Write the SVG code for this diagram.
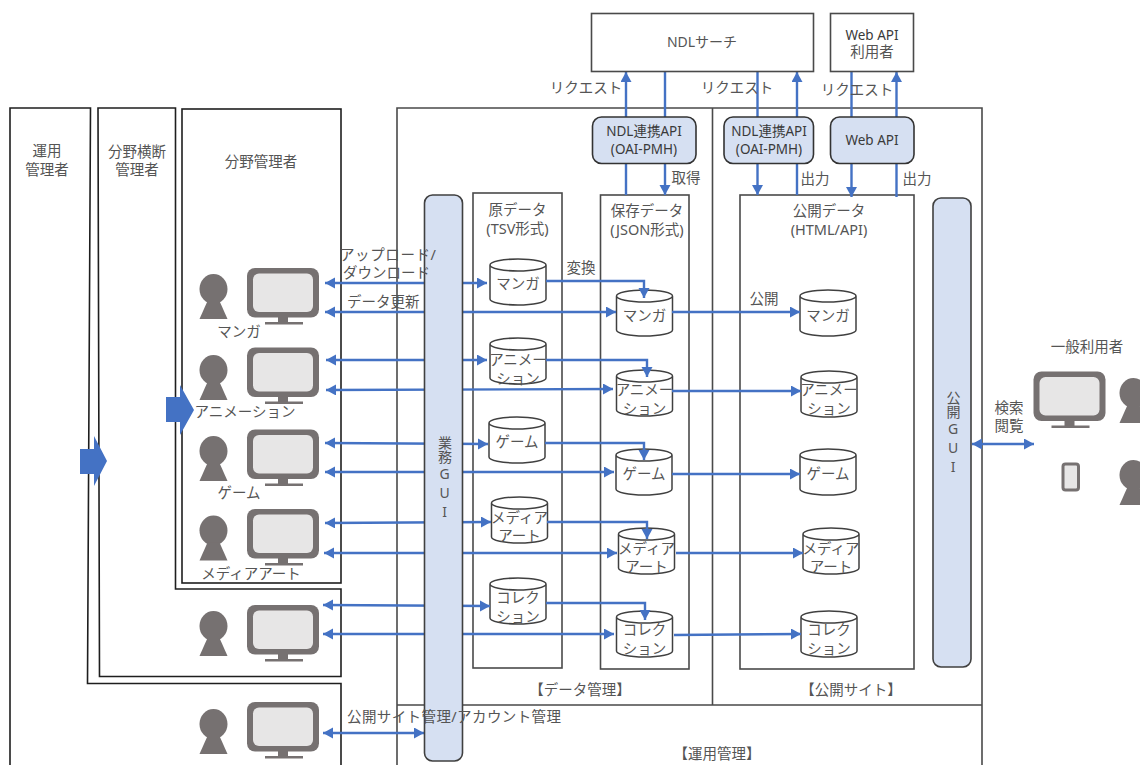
<svg xmlns="http://www.w3.org/2000/svg" width="1140" height="765" viewBox="0 0 1140 765">
<style>
text{font-family:"Noto Sans","Noto Sans CJK JP",sans-serif;font-size:14.5px;fill:#555;text-anchor:middle}
.s{text-anchor:start}
.l{font-size:13.5px;fill:#3a3a3a}
.v{writing-mode:vertical-rl;text-orientation:upright;font-size:14px}
.frame{fill:none;stroke:#1e1e1e;stroke-width:1.6}
.box{fill:none;stroke:#4a4a4a;stroke-width:1.6}
.gui{fill:#d6e0f2;stroke:#404040;stroke-width:1.6}
.api{fill:#d6e0f2;stroke:#333;stroke-width:1.6}
.cyl{fill:#fff;stroke:#404040;stroke-width:1.5}
.c line,.c path{fill:none;stroke:#4472c4;stroke-width:2.4}
.blk{fill:#4472c4;stroke:none}
</style>
<defs>
<marker id="ah" markerUnits="userSpaceOnUse" markerWidth="12" markerHeight="12" refX="10" refY="5.500" orient="auto-start-reverse"><path d="M0 0L10 5.500L0 11z" fill="#4472c4"/></marker>
<g id="person"><ellipse cx="14" cy="15" rx="14" ry="15" fill="#767171"/><path d="M8 27H20L28 45H0z" fill="#767171"/></g>
<g id="monitor"><rect width="72" height="49.500" rx="8" fill="#767171"/><rect x="6" y="5.500" width="60" height="38.500" rx="6" fill="#e7e6e6"/><rect x="31" y="49" width="10" height="6" fill="#767171"/><rect x="18" y="54" width="38" height="2.500" fill="#767171"/></g>
<path id="cy" class="cyl" d="M0 6V40A28 6 0 0 0 56 40V6A28 6 0 0 0 0 6A28 6 0 0 0 56 6"/>
</defs>
<rect width="1140" height="765" fill="#fff"/>
<g id="frames">
<path id="ops-frame" class="frame" d="M10 765V108H90.500L87.500 683.500H341V765"/>
<path id="cross-frame" class="frame" d="M98 108H175.500V589H341V676.500H99.500z"/>
<rect id="field-frame" class="frame" x="182" y="109" width="159" height="474"/>
<path id="main-frame" class="box" d="M397 765V108H982V765M397 705H982M712.500 108V705"/>
<rect id="raw-box" class="box" x="473" y="193" width="89" height="475"/>
<rect id="saved-box" class="box" x="600.500" y="195" width="88.500" height="474"/>
<rect id="public-box" class="box" x="740" y="195" width="174" height="474"/>
</g>
<g id="cylinders">
<use href="#cy" x="490" y="259"/><use href="#cy" x="490" y="338"/><use href="#cy" x="489" y="417"/><use href="#cy" x="491.500" y="497"/><use href="#cy" x="490" y="578"/>
<use href="#cy" x="616.500" y="290"/><use href="#cy" x="616.500" y="370"/><use href="#cy" x="616" y="449"/><use href="#cy" x="618.500" y="528"/><use href="#cy" x="616.500" y="611"/>
<use href="#cy" x="800" y="290"/><use href="#cy" x="801" y="371"/><use href="#cy" x="800" y="449"/><use href="#cy" x="803" y="528"/><use href="#cy" x="801" y="611"/>
</g>
<g id="connectors" class="c">
<line x1="626" y1="195" x2="626" y2="72" marker-end="url(#ah)"/>
<line x1="665" y1="71" x2="665" y2="195" marker-end="url(#ah)"/>
<line x1="757.500" y1="71" x2="757.500" y2="195" marker-end="url(#ah)"/>
<line x1="797" y1="195" x2="797" y2="72" marker-end="url(#ah)"/>
<line x1="851.500" y1="71" x2="851.500" y2="197" marker-end="url(#ah)"/>
<line x1="896.500" y1="197" x2="896.500" y2="72" marker-end="url(#ah)"/>
<line x1="325" y1="283" x2="487" y2="283" marker-start="url(#ah)" marker-end="url(#ah)"/>
<line x1="325" y1="312" x2="616" y2="312" marker-start="url(#ah)" marker-end="url(#ah)"/>
<line x1="326" y1="360" x2="487" y2="360" marker-start="url(#ah)" marker-end="url(#ah)"/>
<line x1="326" y1="390" x2="613" y2="389" marker-start="url(#ah)" marker-end="url(#ah)"/>
<line x1="325" y1="443" x2="488" y2="444" marker-start="url(#ah)" marker-end="url(#ah)"/>
<line x1="325" y1="472" x2="614" y2="472" marker-start="url(#ah)" marker-end="url(#ah)"/>
<line x1="325" y1="523" x2="491" y2="522" marker-start="url(#ah)" marker-end="url(#ah)"/>
<line x1="324" y1="553" x2="617" y2="553" marker-start="url(#ah)" marker-end="url(#ah)"/>
<line x1="323" y1="605" x2="490" y2="606" marker-start="url(#ah)" marker-end="url(#ah)"/>
<line x1="323" y1="634" x2="614" y2="634" marker-start="url(#ah)" marker-end="url(#ah)"/>
<line x1="323" y1="733" x2="424" y2="733" marker-start="url(#ah)" marker-end="url(#ah)"/>
<line x1="972" y1="444" x2="1034" y2="444" marker-start="url(#ah)" marker-end="url(#ah)"/>
<path d="M546 281H644V298" marker-end="url(#ah)"/>
<path d="M546 360H647V377" marker-end="url(#ah)"/>
<path d="M545 443H644V460" marker-end="url(#ah)"/>
<path d="M547 522H647V539" marker-end="url(#ah)"/>
<path d="M546 603H645V620" marker-end="url(#ah)"/>
<line x1="672" y1="312" x2="800" y2="312" marker-end="url(#ah)"/>
<line x1="672" y1="391" x2="801" y2="391" marker-end="url(#ah)"/>
<line x1="672" y1="474" x2="800" y2="474" marker-end="url(#ah)"/>
<line x1="676" y1="553" x2="803" y2="553" marker-end="url(#ah)"/>
<line x1="674" y1="635" x2="801" y2="634" marker-end="url(#ah)"/>
</g>
<path id="block-arrow-field" class="blk" d="M166 397H180V385L194 410L180 435V422H166z"/>
<path id="block-arrow-cross" class="blk" d="M80 449H94V436L107 461L94 486V474H80z"/>
<g id="ndl-search"><rect class="box" x="591.500" y="13.500" width="222" height="58"/><text x="702" y="47" style="font-size:14px">NDLサーチ</text></g>
<g id="webapi-user"><rect class="box" x="830.500" y="13.500" width="83" height="58"/><text x="872" y="40"><tspan class="l" x="872">Web API</tspan><tspan x="872" dy="17">利用者</tspan></text></g>
<g id="api-ndl-1"><rect class="api" x="592.500" y="117" width="103.500" height="46.500" rx="9"/><text class="l" x="644" y="136">NDL連携API</text><text class="l" x="644" y="154">(OAI-PMH)</text></g>
<g id="api-ndl-2"><rect class="api" x="724" y="117" width="89.500" height="46.500" rx="9"/><text class="l" x="769" y="136">NDL連携API</text><text class="l" x="769" y="154">(OAI-PMH)</text></g>
<g id="api-web"><rect class="api" x="830.500" y="117" width="83.500" height="46.500" rx="9"/><text class="l" x="872" y="145">Web API</text></g>
<g id="gui-work"><rect class="gui" x="424.500" y="195" width="38" height="566" rx="8"/><text class="v" x="444.500" y="478">業務GUI</text></g>
<g id="gui-public"><rect class="gui" x="933" y="198" width="38" height="469" rx="8"/><text class="v" x="953" y="433">公開GUI</text></g>
<g id="user-manga"><use href="#person" x="199.500" y="274"/><use href="#monitor" x="247" y="268"/><text x="239" y="337">マンガ</text></g>
<g id="user-anim"><use href="#person" x="199.500" y="355"/><use href="#monitor" x="247" y="347.500"/><text x="245" y="417">アニメーション</text></g>
<g id="user-game"><use href="#person" x="199.500" y="436"/><use href="#monitor" x="247" y="429.500"/><text x="239" y="498">ゲーム</text></g>
<g id="user-media"><use href="#person" x="199.500" y="515.500"/><use href="#monitor" x="247" y="509"/><text x="251" y="579">メディアアート</text></g>
<g id="user-cross"><use href="#person" x="199.500" y="611"/><use href="#monitor" x="247" y="605"/></g>
<g id="user-ops"><use href="#person" x="199.500" y="709"/><use href="#monitor" x="247" y="702"/></g>
<g id="user-public"><use href="#monitor" x="1033.500" y="371.500"/><use href="#person" x="1119.500" y="378"/><text x="1087" y="352">一般利用者</text></g>
<g id="user-mobile"><rect x="1063" y="464" width="15.500" height="26" rx="2.500" fill="#e7e6e6" stroke="#767171" stroke-width="3"/><use href="#person" x="1119.500" y="460"/></g>
<g id="labels">
<text x="47" y="156">運用</text><text x="47" y="175">管理者</text>
<text x="137" y="157">分野横断</text><text x="137" y="175">管理者</text>
<text x="261" y="167">分野管理者</text>
<text class="s" x="340" y="260" style="letter-spacing:.6px">アップロード/</text><text class="s" x="343" y="278">ダウンロード</text>
<text class="s" x="347" y="307">データ更新</text>
<text class="s" x="347" y="722" style="letter-spacing:.4px">公開サイト管理/アカウント管理</text>
<text x="717" y="759">【運用管理】</text><text x="580" y="695">【データ管理】</text><text x="851" y="695">【公開サイト】</text>
<text x="586" y="93">リクエスト</text><text x="737" y="93">リクエスト</text><text x="857" y="95">リクエスト</text>
<text x="686" y="183">取得</text><text x="815" y="184">出力</text><text x="917" y="184">出力</text>
<text x="581" y="273">変換</text><text x="764" y="304">公開</text>
<text x="517.500" y="215">原データ</text><text x="517.500" y="234">(TSV形式)</text>
<text x="647" y="216">保存データ</text><text x="647" y="235">(JSON形式)</text>
<text x="829" y="216">公開データ</text><text x="829" y="235">(HTML/API)</text>
<text x="1009" y="413">検索</text><text x="1009" y="431">閲覧</text>
</g>
<g id="cylinder-labels">
<text x="518" y="289">マンガ</text><text x="518" y="365">アニメー</text><text x="518" y="384">ション</text><text x="517" y="447">ゲーム</text><text x="519.500" y="523">メディア</text><text x="519.500" y="541">アート</text><text x="518" y="603">コレク</text><text x="518" y="622">ション</text>
<text x="644.500" y="321">マンガ</text><text x="644.500" y="395">アニメー</text><text x="644.500" y="414">ション</text><text x="644" y="479">ゲーム</text><text x="646.500" y="554">メディア</text><text x="646.500" y="572">アート</text><text x="644.500" y="635">コレク</text><text x="644.500" y="654">ション</text>
<text x="828" y="321">マンガ</text><text x="829" y="395">アニメー</text><text x="829" y="414">ション</text><text x="828" y="479">ゲーム</text><text x="831" y="554">メディア</text><text x="831" y="572">アート</text><text x="829" y="635">コレク</text><text x="829" y="654">ション</text>
</g>
</svg>
